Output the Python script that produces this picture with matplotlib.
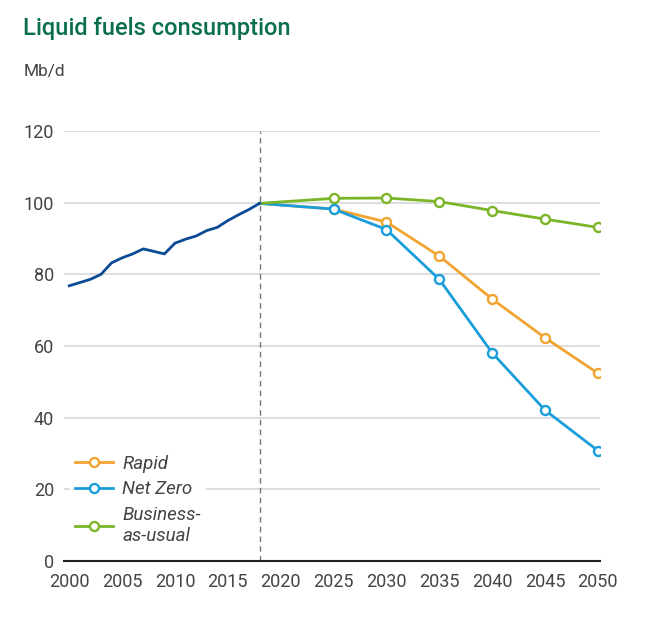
import matplotlib.pyplot as plt

plt.rcParams["font.family"] = ["Roboto", "DejaVu Sans"]

hist_years = list(range(2000, 2019))
hist_vals = [76.8, 77.7, 78.6, 80.0, 83.2, 84.6, 85.7, 87.1, 86.4, 85.7,
             88.7, 89.8, 90.7, 92.2, 93.1, 95.0, 96.6, 98.1, 99.8]

scen_years = [2018, 2025, 2030, 2035, 2040, 2045, 2050]
rapid = [99.8, 98.2, 94.6, 85.1, 73.1, 62.3, 52.4]
net_zero = [99.8, 98.2, 92.5, 78.6, 58.1, 42.1, 30.8]
bau = [99.8, 101.2, 101.3, 100.3, 97.8, 95.4, 93.1]

x_ticks = list(range(2000, 2051, 5))
y_ticks = [0, 20, 40, 60, 80, 100, 120]

fig = plt.figure(figsize=(6.45, 6.19), dpi=100)
ax = fig.add_axes([0.0992, 0.0937, 0.831, 0.6947])

ax.plot(hist_years, hist_vals, color="#0b4a94", lw=2, zorder=4)

series = [
    ("Rapid", rapid, "#f2a431"),
    ("Net Zero", net_zero, "#1a9edb"),
    ("Business-\nas-usual", bau, "#7ab528"),
]
for label, vals, col in series:
    ax.plot(scen_years, vals, color=col, lw=2, marker="o", ms=6.5,
            mfc="white", mec=col, mew=1.7, markevery=slice(1, None),
            label=label, zorder=3)

ax.axvline(2018, color="#777777", lw=1, ls=(0, (4, 3)), zorder=2)

ax.set_xlim(1999.5, 2050.2)
ax.set_ylim(0, 120)
ax.set_xticks(x_ticks)
ax.set_yticks(y_ticks)
ax.grid(axis="y", color="#d8d8d8", lw=1.2)
ax.set_axisbelow(True)
for s in ["top", "right", "left"]:
    ax.spines[s].set_visible(False)
ax.spines["bottom"].set_color("#222222")
ax.spines["bottom"].set_linewidth(1.5)
ax.spines["bottom"].set_zorder(5)
ax.tick_params(axis="both", length=0, labelsize=13, labelcolor="#444444")
ax.tick_params(axis="x", pad=9)
ax.tick_params(axis="y", pad=7)

leg = ax.legend(loc="lower left", bbox_to_anchor=(0.0, 0.012), frameon=True,
                fontsize=13.5, handlelength=2.0, handletextpad=0.5,
                labelspacing=0.4, borderpad=0.3, borderaxespad=0.3)
leg.get_frame().set_facecolor("white")
leg.get_frame().set_edgecolor("none")
leg.get_frame().set_alpha(1)
for t in leg.get_texts():
    t.set_fontstyle("italic")
    t.set_color("#444444")

fig.text(0.036, 0.955, "Liquid fuels consumption", fontsize=17,
         color="#0b6e4f", fontweight="medium", va="center", ha="left")
fig.text(0.036, 0.884, "Mb/d", fontsize=12.5, color="#444444",
         va="center", ha="left")

fig.savefig("out.png", dpi=100)
